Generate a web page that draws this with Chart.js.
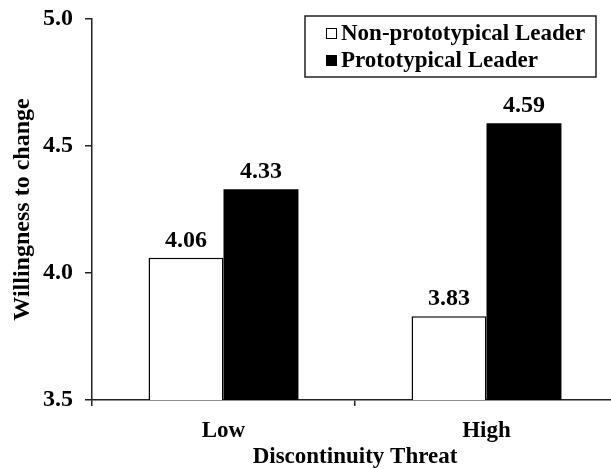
<!DOCTYPE html>
<html>
<head>
<meta charset="utf-8">
<script src="https://cdn.jsdelivr.net/npm/chart.js@4"></script>
<style>
  html, body { margin: 0; padding: 0; background: #fff; overflow: hidden; width: 611px; height: 469px; }
  canvas { display: block; }
</style>
</head>
<body>
<canvas id="c" width="618" height="469"></canvas>
<script>
const categories = ['Low', 'High'];
const seriesNames = ['Non-prototypical Leader', 'Prototypical Leader'];
const nonPrototypical = [4.06, 3.83];
const prototypical = [4.33, 4.59];
const yTicks = [3.5, 4.0, 4.5, 5.0];

const FONT = '"Liberation Serif", "Times New Roman", serif';

const valueLabels = {
  id: 'valueLabels',
  afterDatasetsDraw(chart) {
    const ctx = chart.ctx;
    ctx.save();
    ctx.font = 'bold 24px ' + FONT;
    ctx.fillStyle = '#000';
    ctx.textAlign = 'center';
    ctx.textBaseline = 'alphabetic';
    chart.data.datasets.forEach((ds, i) => {
      chart.getDatasetMeta(i).data.forEach((bar, j) => {
        ctx.fillText(ds.data[j].toFixed(2), bar.x, bar.y - 11);
      });
    });
    ctx.restore();
  }
};

const boxLegend = {
  id: 'boxLegend',
  afterDraw(chart) {
    const ctx = chart.ctx;
    ctx.save();
    const x0 = 305, y0 = 16, w = 291, h = 61;
    ctx.strokeStyle = '#222';
    ctx.lineWidth = 1.5;
    ctx.strokeRect(x0, y0, w, h);
    ctx.font = 'bold 23px ' + FONT;
    ctx.textBaseline = 'middle';
    ctx.textAlign = 'left';
    chart.data.datasets.forEach((ds, i) => {
      const cy = 33 + i * 27;
      ctx.fillStyle = ds.backgroundColor;
      ctx.fillRect(326, cy - 5, 11, 11);
      ctx.strokeStyle = '#000';
      ctx.lineWidth = 1;
      ctx.strokeRect(326.5, cy - 4.5, 10, 10);
      ctx.fillStyle = '#000';
      ctx.fillText(ds.label, 341, cy + 1);
    });
    ctx.restore();
  }
};

new Chart(document.getElementById('c'), {
  type: 'bar',
  data: {
    labels: categories,
    datasets: [
      { label: seriesNames[0], data: nonPrototypical, backgroundColor: '#ffffff', borderColor: '#000', borderWidth: 1.5 },
      { label: seriesNames[1], data: prototypical, backgroundColor: '#000000', borderColor: '#000', borderWidth: 0 }
    ]
  },
  options: {
    responsive: false,
    animation: false,
    devicePixelRatio: 1,
    layout: { padding: { top: 19, left: 0, right: 0, bottom: 0 } },
    categoryPercentage: 0.57,
    barPercentage: 1.0,
    plugins: { legend: { display: false }, tooltip: { enabled: false } },
    scales: {
      x: {
        grid: { display: true, drawOnChartArea: false, drawTicks: true, tickLength: 6, color: '#222', lineWidth: 1.5, offset: true },
        border: { display: true, color: '#222', width: 1.5 },
        ticks: { color: '#000', font: { family: FONT, size: 23, weight: 'bold' }, padding: 11 },
        title: { display: true, text: 'Discontinuity Threat', color: '#000', font: { family: FONT, size: 23, weight: 'bold', lineHeight: 1 }, padding: { top: 0, bottom: 0 } },
        afterFit(scale) { scale.height = 69; scale.paddingLeft = 0; scale.paddingRight = 0; }
      },
      y: {
        min: 3.5, max: 5.0,
        afterBuildTicks(scale) { scale.ticks = yTicks.map(v => ({ value: v })); },
        grid: { display: true, drawOnChartArea: false, drawTicks: true, tickLength: 7, color: '#222', lineWidth: 1.5 },
        border: { display: true, color: '#222', width: 1.5 },
        ticks: { color: '#000', font: { family: FONT, size: 24, weight: 'bold' }, padding: 12, callback: v => Number(v).toFixed(1) },
        title: { display: true, text: 'Willingness to change', color: '#000', font: { family: FONT, size: 24, weight: 'bold' }, padding: { top: 8, bottom: 0 } },
        afterFit(scale) { scale.width = 92; scale.paddingTop = 0; scale.paddingBottom = 0; }
      }
    }
  },
  plugins: [valueLabels, boxLegend]
});
</script>
</body>
</html>
